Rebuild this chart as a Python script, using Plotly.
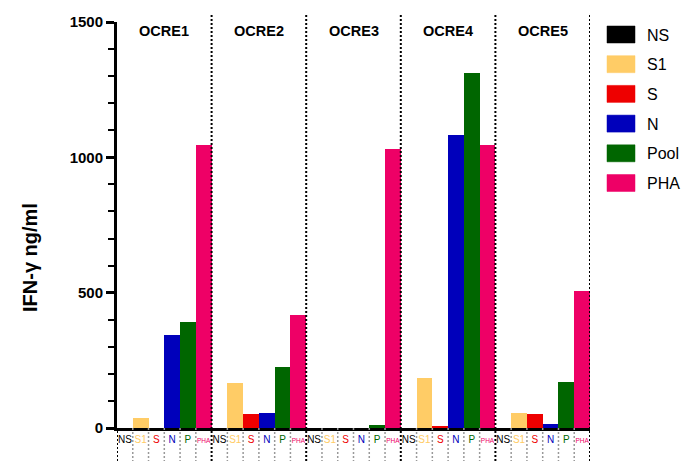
import plotly.graph_objects as go

groups = ["OCRE1", "OCRE2", "OCRE3", "OCRE4", "OCRE5"]
stimuli = ["NS", "S1", "S", "N", "Pool", "PHA"]
tick_labels = ["NS", "S1", "S", "N", "P", "PHA"]
colors = ["#000000", "#FFCC66", "#EE0000", "#0000BB", "#006600", "#EE0066"]

ns_vals = [0, 0, 0, 0, 0]
s1_vals = [38, 168, 0, 183, 56]
s_vals = [0, 50, 0, 8, 50]
n_vals = [344, 56, 0, 1084, 13]
pool_vals = [393, 225, 10, 1311, 171]
pha_vals = [1047, 417, 1029, 1047, 505]
series = [ns_vals, s1_vals, s_vals, n_vals, pool_vals, pha_vals]

y_ticks = [0, 500, 1000, 1500]

W, H = 683, 461
PL, PT, PB = 117, 22, 428      # plot area in page pixels
PW, PH = 473, PB - PT
L, T = PL, PT
R, B = W - L - PW, H - T - PH

def py(pix):  # page pixel y -> paper
    return (PB - pix) / PH

def px(pix):  # page pixel x -> paper
    return (pix - PL) / PW

categories = [f"{g}|{st}" for g in groups for st in stimuli]

fig = go.Figure()
for st, vals, col in zip(stimuli, series, colors):
    fig.add_trace(go.Bar(
        x=[f"{g}|{st}" for g in groups],
        y=vals,
        name=st,
        marker=dict(color=col, line=dict(width=0)),
        showlegend=False,
    ))

ticktext = []
for g in groups:
    for lab, col in zip(tick_labels, colors):
        if lab == "PHA":
            ticktext.append(f'<span style="color:{col};font-size:6.5px">{lab}</span>')
        else:
            ticktext.append(f'<span style="color:{col}">{lab}</span>')

shapes = []
n_st = len(stimuli)
n_cat = len(categories)
for k in range(n_cat + 1):
    xpos = k - 0.5
    if k % n_st == 0:
        y1 = 0 if k == 0 else py(14)
        shapes.append(dict(type="line", xref="x", yref="paper", x0=xpos, x1=xpos,
                           y0=py(461), y1=y1, line=dict(color="black", width=2, dash="2px,2px")))
    else:
        shapes.append(dict(type="line", xref="x", yref="paper", x0=xpos, x1=xpos,
                           y0=0, y1=py(461), line=dict(color="#999999", width=1.5, dash="2px,2px")))

annotations = []
for i, g in enumerate(groups):
    annotations.append(dict(text=f"<b>{g}</b>", xref="x", yref="paper",
                            x=i * n_st + (n_st - 1) / 2, y=py(31), showarrow=False,
                            font=dict(size=14.5, color="black", family="Liberation Sans, Arial"),
                            xanchor="center", yanchor="middle"))

# manual legend
for i, (st, col) in enumerate(zip(stimuli, colors)):
    top = 26 + i * 29.7
    shapes.append(dict(type="rect", xref="paper", yref="paper",
                       x0=px(607), x1=px(635), y0=py(top + 17), y1=py(top),
                       fillcolor=col, line=dict(color=col, width=0.5)))
    annotations.append(dict(text=st, xref="paper", yref="paper", x=px(645), y=py(top + 9),
                            showarrow=False, xanchor="left", yanchor="middle",
                            font=dict(size=16, color="black", family="Liberation Sans, Arial")))

annotations.append(dict(text="<b>IFN-γ ng/ml</b>", xref="paper", yref="paper",
                        x=px(30), y=py(258), textangle=-90, showarrow=False,
                        xanchor="center", yanchor="middle",
                        font=dict(size=20, color="black", family="Liberation Sans, Arial")))

fig.update_layout(
    width=W, height=H,
    margin=dict(l=L, r=R, t=T, b=B),
    paper_bgcolor="white", plot_bgcolor="white",
    barmode="overlay", bargap=0,
    showlegend=False,
    shapes=shapes, annotations=annotations,
    font=dict(family="Liberation Sans, Arial", color="black"),
)
fig.update_xaxes(
    type="category", categoryorder="array", categoryarray=categories,
    tickmode="array", tickvals=categories, ticktext=ticktext,
    range=[-0.5, n_cat - 0.5],
    showline=True, linecolor="black", linewidth=3,
    ticks="", showgrid=False, zeroline=False,
    tickfont=dict(size=10, family="Liberation Sans, Arial"),
    tickangle=0, fixedrange=True,
)
fig.update_yaxes(
    range=[0, 1500], tickmode="array", tickvals=y_ticks,
    showline=True, linecolor="black", linewidth=3,
    ticks="outside", ticklen=8, tickwidth=3, tickcolor="black",
    minor=dict(ticks="outside", ticklen=6, tickwidth=2, tickcolor="black", dtick=100, showgrid=False),
    showgrid=False, zeroline=False,
    tickfont=dict(size=15, family="Liberation Sans, Arial", weight="bold"),
)

fig.write_html("out.html", config={"displayModeBar": False},
               post_script="document.body.style.margin='0';document.body.style.overflow='hidden';")
